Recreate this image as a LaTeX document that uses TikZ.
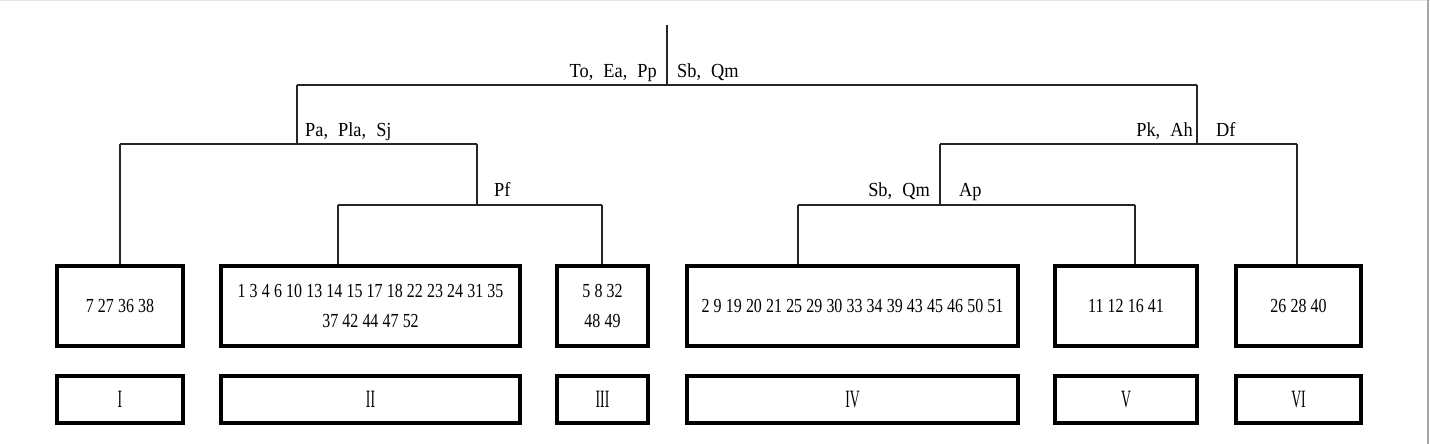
\documentclass[tikz,border=0pt]{standalone}
\usepackage{fontspec}
\setmainfont{Liberation Serif}
\newfontfamily\numfont[FakeStretch=0.8,WordSpace=1.05]{Liberation Serif}
\newfontfamily\labfont[FakeStretch=0.92,WordSpace=2.2]{Liberation Serif}
\newfontfamily\romfont[FakeStretch=0.55]{Liberation Serif}
\begin{document}
\begin{tikzpicture}[x=1bp,y=-1bp,
  conn/.style={line width=1.3bp, draw=black!85},
  grp/.style={draw, line width=3.2bp, inner sep=0pt, align=center,
    font=\numfont\fontsize{20}{31}\selectfont, minimum height=80bp},
  cls/.style={draw, line width=3.2bp, inner sep=0pt,
    font=\romfont\fontsize{25}{25}\selectfont, minimum height=47bp},
  lab/.style={font=\labfont\fontsize{20}{20}\selectfont, inner sep=0pt}]
\useasboundingbox (0,0) rectangle (1430,444);
\draw[gray!20, line width=1bp] (0,0.5) -- (1430,0.5);
\draw[gray!70, line width=2bp] (1428,0) -- (1428,444);

% group boxes
\node[grp, minimum width=126bp] (g1) at (120,306) {7 27 36 38};
\node[grp, minimum width=299bp] (g2) at (370.5,306) {1 3 4 6 10 13 14 15 17 18 22 23 24 31 35\\37 42 44 47 52};
\node[grp, minimum width=91bp] (g3) at (602.5,306) {5 8 32\\48 49};
\node[grp, minimum width=331bp] (g4) at (852.5,306) {2 9 19 20 21 25 29 30 33 34 39 43 45 46 50 51};
\node[grp, minimum width=142bp] (g5) at (1126,306) {11 12 16 41};
\node[grp, minimum width=125bp] (g6) at (1298.5,306) {26 28 40};

% class boxes
\node[cls, minimum width=126bp] (c1) at (120,399.5) {I};
\node[cls, minimum width=299bp] (c2) at (370.5,399.5) {II};
\node[cls, minimum width=91bp] (c3) at (602.5,399.5) {III};
\node[cls, minimum width=331bp] (c4) at (852.5,399.5) {IV};
\node[cls, minimum width=142bp] (c5) at (1126,399.5) {V};
\node[cls, minimum width=125bp] (c6) at (1298.5,399.5) {VI};

% junction coordinates
\coordinate (top) at (667,25);
\coordinate (r) at (667,85);
\coordinate (rl) at (297,85);
\coordinate (rr) at (1197,85);
\coordinate (al) at (297,144);
\coordinate (ar) at (1197,144);
\coordinate (a1) at (120,144);
\coordinate (a2) at (477,144);
\coordinate (b1) at (940,144);
\coordinate (b2) at (1297,144);
\coordinate (p) at (477,205);
\coordinate (p1) at (338,205);
\coordinate (p2) at (602,205);
\coordinate (q) at (940,205);
\coordinate (q1) at (798,205);
\coordinate (q2) at (1135,205);

% connectors
\draw[conn] (top) -- (r);
\draw[conn] (rl) -- (rr);
\draw[conn] (rl) -- (al);
\draw[conn] (rr) -- (ar);
\draw[conn] (a1) -- (a2);
\draw[conn] (b1) -- (b2);
\draw[conn] (a2) -- (p);
\draw[conn] (b1) -- (q);
\draw[conn] (p1) -- (p2);
\draw[conn] (q1) -- (q2);
\draw[conn] (a1) -- (a1 |- g1.north);
\draw[conn] (p1) -- (p1 |- g2.north);
\draw[conn] (p2) -- (p2 |- g3.north);
\draw[conn] (q1) -- (q1 |- g4.north);
\draw[conn] (q2) -- (q2 |- g5.north);
\draw[conn] (b2) -- (b2 |- g6.north);

% split labels
\node[lab, anchor=base east] (l1) at (657,78) {To, Ea, Pp};
\node[lab, anchor=base west] (l2) at (677,78) {Sb, Qm};
\node[lab, anchor=base west] (l3) at (305,137) {Pa, Pla, Sj};
\node[lab, anchor=base east] (l4) at (1193,137) {Pk, Ah};
\node[lab, anchor=base west] (l5) at (1216,137) {Df};
\node[lab, anchor=base west] (l6) at (494,197) {Pf};
\node[lab, anchor=base east] (l7) at (930,197) {Sb, Qm};
\node[lab, anchor=base west] (l8) at (959,197) {Ap};
\end{tikzpicture}
\end{document}
